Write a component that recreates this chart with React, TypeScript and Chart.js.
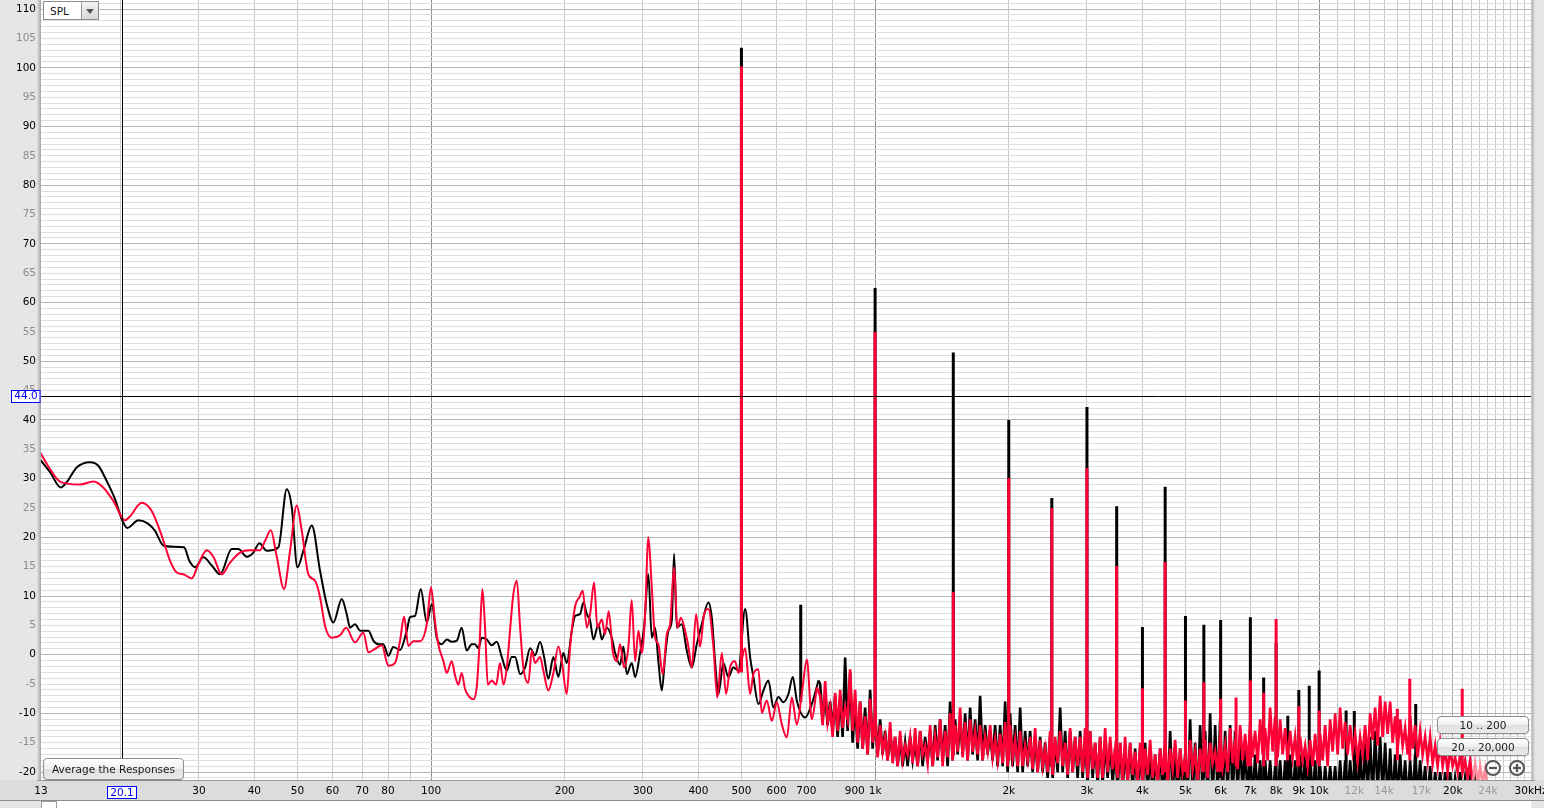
import React, { useEffect, useRef } from 'react';
import { Chart, registerables } from 'chart.js';

Chart.register(...registerables);

const FONT = '"DejaVu Sans", sans-serif';
const RED = '#ff0036';
const RED_LIGHT = '#ff8a9c';

// ---------- axis ranges ----------
const xMinHz = 13.23;
const xMaxHz = 30000;
const yMinDb = -21.35;
const yMaxDb = 111.55;
const cursorHz = 20.1;
const cursorDb = 44.0;

// ---------- x tick / grid positions and labels ----------
const xTickHz = [
  13.23, 20, 30, 40, 50, 60, 70, 80, 90,
  100, 200, 300, 400, 500, 600, 700, 800, 900,
  1000, 2000, 3000, 4000, 5000, 6000, 7000, 8000, 9000,
  10000, 11000, 12000, 13000, 14000, 15000, 16000, 17000, 18000, 19000, 20000,
  21000, 22000, 23000, 24000, 25000, 26000, 27000, 28000, 29000, 30000,
];
const xTickText = new Map<number, string>([
  [13.23, '13'], [30, '30'], [40, '40'], [50, '50'], [60, '60'], [70, '70'], [80, '80'],
  [100, '100'], [200, '200'], [300, '300'], [400, '400'], [500, '500'], [600, '600'], [700, '700'], [900, '900'],
  [1000, '1k'], [2000, '2k'], [3000, '3k'], [4000, '4k'], [5000, '5k'], [6000, '6k'], [7000, '7k'], [8000, '8k'], [9000, '9k'],
  [10000, '10k'], [12000, '12k'], [14000, '14k'], [17000, '17k'], [20000, '20k'], [24000, '24k'], [30000, '30kHz'],
]);
const xGreyLabels = [12000, 14000, 17000, 24000];

// ---------- low / mid frequency part: [Hz, dB] ----------
const blackLow: [number, number][] = [
  [13.16, 33.3], [13.87, 31.1], [14.66, 28.5], [15.12, 29.4], [15.92, 31.9], [17.06, 32.8], [17.81, 32.2],
  [18.6, 29.6], [19.42, 26.5], [20.11, 23.1], [20.7, 21.6], [21.92, 22.9], [23.08, 22.3], [23.9, 21.1],
  [24.95, 18.6], [26.28, 18.4], [27.78, 18.3], [28.55, 16.0], [29.41, 14.9], [30.71, 16.6], [32.07, 15.2],
  [33.48, 13.7], [35.57, 18.0], [36.81, 18.0], [38.45, 16.7], [39.8, 17.4], [41.06, 19.0], [42.66, 17.7],
  [45.3, 18.3], [47.32, 28.2], [48.57, 25.1], [50.0, 14.9], [51.58, 17.7], [53.87, 22.0], [56.23, 14.3],
  [58.22, 8.6], [60.26, 5.5], [62.94, 9.5], [64.58, 6.9], [65.71, 4.6], [67.43, 5.2], [69.21, 4.1],
  [72.25, 4.1], [74.13, 2.4], [76.09, 1.8], [78.09, 1.8], [80.13, -0.2], [82.24, 1.3], [85.15, 0.8],
  [88.17, 4.1], [89.68, 6.4], [92.04, 6.6], [94.8, 11.2], [97.8, 5.5], [100.4, 8.6], [103.0, 2.9],
  [105.7, 1.8], [108.5, 2.6], [111.3, 2.2], [114.3, 2.4], [117.2, 4.6], [120.3, 0.7], [123.5, 1.8],
  [125.6, 1.8], [127.8, 1.1], [130.1, 2.9], [133.5, 2.6], [137.0, 1.6], [140.6, 2.2], [144.3, -0.4],
  [148.1, -2.7], [151.9, -0.4], [154.6, -0.4], [158.7, -3.3], [162.8, -2.2], [167.1, 1.1], [171.5, -0.1],
  [176.0, 2.2], [179.7, -0.4], [183.7, -4.1], [188.6, -0.4], [193.5, -3.8], [198.6, 0.3], [202.1, -1.4],
  [207.5, 4.1], [211.1, 6.6], [216.6, 6.9], [220.3, 8.9], [224.3, 6.9], [228.1, 5.8], [232.1, 2.6],
  [238.2, 5.2], [242.4, 2.6], [248.7, 4.6], [255.3, 2.9], [259.7, 0.3], [266.5, -1.7], [271.1, 1.4],
  [276.0, -3.3], [283.1, -1.4], [288.1, -3.8], [295.6, 0.3], [301.8, 4.6], [308.6, 13.7], [314.1, 2.9],
  [319.5, 4.6], [325.0, -1.1], [330.8, -6.1], [336.5, -0.4], [342.3, 4.1], [348.4, 5.8], [352.6, 17.2],
  [357.6, 4.6], [366.9, 5.2], [376.6, 0.7], [386.5, -2.2], [396.7, 1.8], [407.1, 5.2], [421.3, 8.9],
  [428.8, 6.3], [436.1, -1.1], [443.7, -6.7], [455.3, -1.4], [467.3, -3.8], [479.6, -2.2], [492.2, -2.7],
  [509.6, 7.8], [523.0, -0.4], [532.0, -3.8], [546.0, -8.4], [560.4, -6.1], [575.1, -4.4], [590.2, -9.0],
  [605.7, -7.2], [621.6, -8.1], [637.9, -6.7], [652.6, -3.8], [666.3, -7.8], [695.7, -10.7], [720.3, -8.4],
  [745.4, -4.4],
];

const redLow: [number, number][] = [
  [13.16, 34.5], [13.87, 31.6], [14.66, 29.4], [16.2, 29.0], [17.36, 29.5], [18.27, 28.5], [19.25, 26.2],
  [20.46, 22.9], [21.0, 23.6], [22.3, 25.9], [23.49, 24.5], [24.74, 20.3], [25.84, 16.0], [26.75, 14.0],
  [27.68, 13.7], [28.91, 13.0], [29.92, 15.4], [31.25, 17.8], [32.34, 16.7], [33.78, 13.7], [35.26, 15.7],
  [37.14, 17.4], [39.11, 17.8], [41.21, 17.8], [42.28, 19.4], [43.55, 21.2], [44.93, 16.7], [46.65, 11.2],
  [48.13, 17.7], [49.84, 25.4], [51.15, 21.1], [52.92, 13.7], [54.8, 12.6], [56.23, 9.8], [57.71, 4.9],
  [59.75, 2.9], [62.37, 3.3], [64.36, 4.6], [67.43, 2.1], [70.4, 3.8], [72.25, 0.4], [74.8, 1.0],
  [77.45, 1.6], [80.13, -1.9], [82.96, -1.4], [85.15, 2.4], [86.94, 6.5], [88.9, 1.5], [91.23, 2.3],
  [94.45, 2.3], [97.8, 5.2], [100.0, 11.5], [102.1, 5.5], [103.8, 1.8], [106.6, -1.1], [108.5, -3.1],
  [111.3, -1.1], [113.3, -3.6], [115.2, -5.1], [117.2, -3.1], [119.3, -5.9], [122.4, -7.3], [124.5, -7.6],
  [126.7, -5.6], [128.5, 1.4], [130.5, 11.2], [132.3, 4.6], [134.2, -5.1], [137.0, -4.4], [140.1, -5.1],
  [143.0, -1.4], [145.5, -5.1], [148.1, -2.2], [150.6, 4.1], [153.2, 10.3], [156.0, 12.6], [158.7, 4.6],
  [161.4, -2.2], [165.6, -4.8], [168.6, 0.7], [171.5, -1.4], [176.0, -0.4], [179.0, -2.7], [183.7, -6.1],
  [188.6, -3.1], [193.5, 1.4], [197.0, -1.1], [202.1, -6.7], [205.7, 1.4], [211.1, 8.3], [215.8, 9.8],
  [219.6, 10.9], [224.3, 4.6], [228.1, 6.9], [232.9, 12.3], [236.9, 4.6], [242.4, 6.0], [246.5, 3.5],
  [251.2, 7.4], [256.6, 0.5], [262.0, -1.1], [266.5, 1.8], [272.1, -2.2], [278.3, 1.4], [283.1, 9.3],
  [288.1, -1.1], [293.1, 4.1], [298.3, 0.3], [303.4, 6.9], [308.6, 20.0], [314.1, 11.5], [319.5, 2.9],
  [325.0, 1.8], [332.5, -3.3], [339.6, 3.5], [345.4, 5.2], [352.6, 14.9], [358.7, 4.6], [365.1, 6.3],
  [373.3, 4.1], [379.7, 1.4], [386.5, -2.2], [395.2, 6.9], [403.5, 1.4], [412.0, 6.9], [421.3, 7.8],
  [432.3, 1.4], [441.3, -7.3], [451.6, 0.3], [461.8, -6.7], [471.4, -2.2], [483.8, -1.1], [492.2, -3.1],
  [509.6, 1.1], [523.0, -6.7], [532.0, -3.3], [546.0, -2.5], [555.7, -9.9], [570.3, -7.8], [585.3, -11.3],
  [600.7, -8.1], [616.6, -11.9], [632.7, -14.1], [649.3, -7.3], [666.3, -11.9], [683.8, -6.7], [702.0, -0.8],
  [720.3, -11.0], [739.2, -5.6],
];

// ---------- dense high-frequency part, read as alternating local max / min ----------
const hfStartHz = 752;
const hfEndHz = 23960;

const redHfDb = [
  -7, -12, -4.5, -11.5, -9, -14, -6.5, -13, -6, -12.5, -9, -11, -2.5, -13, -6, -15,
  -8, -16, -10.5, -17, -7.5, -15, -10, -17.5, -12, -16.5, -14, -18, -11.5, -18.5, -14, -19,
  -13, -18, -15.5, -17, -14, -18.5, -12.5, -19, -13, -17, -15.5, -18.5, -12, -19, -14, -17.5,
  -11, -19, -13, -17.5, -10, -18, -12, -16.5, -9, -17.5, -11.5, -18, -11, -16.5, -13, -17,
  -12, -18, -14, -16.5, -12, -17.5, -14.5, -18, -13.5, -18.5, -11.5, -19, -12, -17.5, -14.5, -19,
  -13, -19, -15.5, -18, -14, -19.5, -12.5, -20, -14.5, -19, -16, -20, -13, -20.5, -14, -18.5,
  -13, -19, -15, -20.5, -12.5, -20, -14, -19, -14, -20, -12.5, -21, -13, -19.5, -15, -21,
  -14, -21, -12.5, -20, -14, -19.5, -16, -21, -15, -21.5, -14, -22, -15, -20.5, -16.5, -22,
  -15, -22, -16, -20.5, -14.5, -21, -17, -22, -16, -20.5, -14.5, -22, -16, -19.5, -14.5, -21,
  -16, -20, -17.5, -21, -14.5, -19.5, -16.5, -21.5, -16, -20, -14.5, -21, -15, -18.5, -16.5, -20,
  -14, -19, -15.5, -20, -12.5, -18.5, -14.5, -19.5, -12, -18, -13.5, -19, -11.5, -17.5, -13, -18.5,
  -11, -17, -12.5, -18, -9, -16.5, -10.5, -17.5, -11, -17, -12.5, -18, -13, -17.5, -14, -19,
  -14, -18, -15.5, -19, -14.5, -19, -13.5, -18.5, -13.5, -18, -12, -19, -11, -16.5, -10, -17,
  -9, -16, -11.5, -17, -12, -16.5, -13.5, -18, -14, -17, -12, -18, -10, -14.5, -9, -15.5,
  -7, -14, -8, -13.5, -8, -15, -10.5, -16, -11, -15.5, -12.5, -17, -10.5, -16, -12, -17.5,
  -13, -17, -14, -18, -14, -18.5, -15.5, -19, -15, -19, -16, -20, -16, -19, -17.5, -20,
  -17, -20, -18, -21, -18, -22, -18.5, -22, -19, -22, -19.5, -23,
];

const blackHfDb = [
  -5, -11, -7, -12, -8, -13, -7, -14, -7, -14, -0.5, -13, -3, -15, -8, -16,
  -8, -16, -9, -17, -6, -16, -10, -17, -11, -17, -13, -18, -13, -18, -14, -19,
  -14, -19, -15, -19, -14, -18, -15, -19, -13, -19, -14, -18, -13, -19, -12, -18,
  -11, -18, -12, -19, -8, -18, -11, -17, -11, -17, -10, -18, -9, -17, -11, -18,
  -7, -18, -12, -17, -13, -18, -12, -19, -12, -19, -8, -20, -10, -19, -12, -20,
  -9, -20, -13, -19, -13, -20, -14, -20, -14, -20, -15, -21, -14, -21, -15, -20,
  -9, -20, -13, -21, -13, -20, -14, -21, -13, -21, -14, -22, -13, -21, -15, -22,
  -14, -22, -15, -21, -15, -22, -16, -23, -15, -23, -16, -22, -15, -23, -16, -24,
  -16, -23, -15, -24, -16, -24, -17, -23, -16, -24, -17, -25, -13, -24, -16, -25,
  -16, -24, -17, -25, -11, -24, -15, -25, -12, -24, -13, -25, -10, -25, -12, -24,
  -11, -25, -13, -24, -12, -25, -13, -24, -14, -24, -15, -25, -16, -25, -17, -24,
  -18, -25, -18, -24, -18, -25, -19, -24, -18, -25, -18, -24, -17, -25, -18, -24,
  -17, -24, -17, -25, -17, -25, -18, -24, -19, -25, -19, -24, -19, -24, -19, -25,
  -18, -25, -18, -24, -18, -24, -17, -25, -16, -25, -15, -24, -14, -25, -13, -24,
  -14, -24, -15, -25, -16, -25, -17, -24, -17, -24, -18, -25, -18, -25, -17, -24,
  -18, -24, -19, -25, -19, -25, -20, -24, -20, -25, -20, -24, -20, -25, -21, -24,
  -20, -25, -21, -24, -21, -25, -21, -25, -22, -30, -30, -30,
];

// ---------- harmonic / distortion spikes ----------
const blackSpikeHz = [500, 680, 1000, 1500, 2000, 2500, 3000, 3500, 4000, 4500, 5000, 5500, 6000, 7000, 7500, 8000, 8500, 9000, 9500, 10000, 11500, 12000, 16500];
const blackSpikePeakDb = [103.4, 8.5, 62.5, 51.5, 40.0, 26.7, 42.2, 25.3, 4.7, 28.6, 6.6, 5.1, 5.9, 6.4, -3.9, 2.0, -10.4, -6.0, -5.3, -2.7, -9.5, -9.6, -8.4];
const blackSpikeBaseDb = [-3, -8, -14, -17, -18, -19, -19, -20, -21, -21, -21, -21, -21, -21, -21, -21, -21, -21, -21, -21, -22, -22, -22];

const redSpikeHz = [500, 1000, 1500, 2000, 2500, 3000, 3500, 4000, 4500, 5000, 5500, 6000, 6500, 7000, 7500, 8000, 9000, 10000, 15000, 16000, 21000];
const redSpikePeakDb = [100.2, 55.0, 10.7, 30.1, 25.0, 31.8, 15.1, -5.7, 15.8, -7.8, -4.7, -7.5, -7.3, -4.4, -6.5, 6.1, -8.8, -9.5, -9.2, -4.1, -5.8];
const redSpikeBaseDb = [-3, -14, -17, -18, -19, -19, -20, -20, -20, -20, -20, -20, -19, -19, -19, -19, -19, -19, -18, -18, -20];

// ---------- helpers ----------
type Pt = { x: number; y: number | null };
const hfGrid = (n: number) =>
  Array.from({ length: n }, (_, i) => hfStartHz * Math.pow(hfEndHz / hfStartHz, i / (n - 1)));
const lowPts = (low: [number, number][]): Pt[] => low.map(([x, y]) => ({ x, y }));
const hfPts = (low: [number, number][], hf: number[]): Pt[] => {
  const g = hfGrid(hf.length);
  const last = low[low.length - 1];
  return [{ x: last[0], y: last[1] }, ...hf.map((y, i) => ({ x: g[i], y }))];
};
const spikePts = (hz: number[], base: number[], peak: number[]): Pt[] =>
  hz.flatMap((f, i) => [{ x: f, y: base[i] }, { x: f, y: peak[i] }, { x: f, y: null }]);

const decorPlugin = {
  id: 'decor',
  beforeDraw(chart: any) {
    const { ctx, chartArea: a, width, height } = chart;
    ctx.save();
    ctx.fillStyle = '#e6e6e6';
    ctx.fillRect(0, 0, width, height);
    ctx.fillStyle = '#dcdcdc';
    ctx.fillRect(0, a.bottom, width, 21);
    ctx.fillStyle = '#8c8c8c';
    ctx.fillRect(0, a.bottom + 20, width, 1);
    ctx.fillStyle = '#ffffff';
    ctx.fillRect(a.left, a.bottom + 21, a.right - a.left, height - a.bottom - 21);
    ctx.strokeStyle = '#9a9a9a';
    ctx.lineWidth = 1;
    ctx.strokeRect(a.left + 0.5, a.bottom + 21.5, 15, 10);
    ctx.fillStyle = '#ffffff';
    ctx.fillRect(a.left, a.top, a.right - a.left, a.bottom - a.top);
    const g = ctx.createLinearGradient(a.left - 4, 0, a.left, 0);
    g.addColorStop(0, '#e2e2e2');
    g.addColorStop(1, '#a4a4a4');
    ctx.fillStyle = g;
    ctx.fillRect(a.left - 4, a.top, 4, a.bottom - a.top + 1);
    const g2 = ctx.createLinearGradient(a.right, 0, a.right + 4, 0);
    g2.addColorStop(0, '#a4a4a4');
    g2.addColorStop(1, '#e2e2e2');
    ctx.fillStyle = g2;
    ctx.fillRect(a.right, a.top, 4, a.bottom - a.top + 1);
    ctx.fillStyle = '#9a9a9a';
    ctx.fillRect(a.left - 4, a.bottom, a.right - a.left + 8, 1);
    ctx.restore();
  },
  afterDatasetsDraw(chart: any) {
    const { ctx, chartArea: a, scales } = chart;
    const cx = Math.round(scales.x.getPixelForValue(cursorHz)) + 0.5;
    const cy = Math.round(scales.y.getPixelForValue(cursorDb)) + 0.5;
    ctx.save();
    ctx.strokeStyle = '#000';
    ctx.lineWidth = 1;
    ctx.beginPath();
    ctx.moveTo(cx, a.top);
    ctx.lineTo(cx, a.bottom);
    ctx.moveTo(a.left, cy);
    ctx.lineTo(a.right, cy);
    ctx.stroke();
    ctx.restore();
  },
  afterDraw(chart: any) {
    const { ctx, chartArea: a, scales } = chart;
    const cx = scales.x.getPixelForValue(cursorHz);
    const cy = scales.y.getPixelForValue(cursorDb);
    ctx.save();
    ctx.font = `10.5px ${FONT}`;
    ctx.textAlign = 'center';
    ctx.textBaseline = 'middle';
    ctx.fillStyle = '#fff';
    ctx.fillRect(11.5, Math.round(cy) - 5.5, 28.5, 12);
    ctx.strokeStyle = '#0000ff';
    ctx.lineWidth = 1;
    ctx.strokeRect(11.5, Math.round(cy) - 5.5, 28.5, 12);
    ctx.fillStyle = '#0000ff';
    ctx.fillText(cursorDb.toFixed(1), 26, Math.round(cy) + 0.5);
    const bx = Math.round(cx) - 14.5;
    const by = a.bottom + 6.5;
    ctx.fillStyle = '#fff';
    ctx.fillRect(bx, by, 29, 12);
    ctx.strokeRect(bx, by, 29, 12);
    ctx.fillStyle = '#0000ff';
    ctx.fillText(cursorHz.toFixed(1), Math.round(cx), by + 6.5);
    ctx.restore();
  },
};

const btnStyle: React.CSSProperties = {
  position: 'absolute',
  boxSizing: 'border-box',
  border: '1px solid #8d8d8d',
  borderRadius: 4,
  background: 'linear-gradient(#ffffff, #efefef 50%, #e0e0e0 51%, #e9e9e9)',
  font: `10.5px ${FONT}`,
  color: '#1a1a1a',
  display: 'flex',
  alignItems: 'center',
  justifyContent: 'center',
  boxShadow: '0 1px 1px rgba(0,0,0,0.12)',
  whiteSpace: 'nowrap',
};

export default function App() {
  const canvasRef = useRef<HTMLCanvasElement>(null);

  useEffect(() => {
    document.body.style.margin = '0';
    const canvas = canvasRef.current;
    if (!canvas) return;

    const lineBase = { pointRadius: 0, clip: 0, spanGaps: false };

    const chart = new Chart(canvas, {
      type: 'line',
      data: {
        datasets: [
          {
            ...lineBase,
            label: 'red spikes',
            data: spikePts(redSpikeHz, redSpikeBaseDb, redSpikePeakDb) as any,
            borderColor: RED,
            borderWidth: 3,
            order: 0,
          },
          {
            ...lineBase,
            label: 'red HF',
            data: hfPts(redLow, redHfDb) as any,
            borderColor: RED,
            borderWidth: 2.6,
            order: 1,
            segment: {
              borderColor: (c: any) => (c.p0.parsed.x >= 22000 ? RED_LIGHT : undefined),
            },
          },
          {
            ...lineBase,
            label: 'red',
            data: lowPts(redLow) as any,
            borderColor: RED,
            borderWidth: 2,
            cubicInterpolationMode: 'monotone',
            order: 2,
          },
          {
            ...lineBase,
            label: 'black spikes',
            data: spikePts(blackSpikeHz, blackSpikeBaseDb, blackSpikePeakDb) as any,
            borderColor: '#000',
            borderWidth: 3,
            order: 3,
          },
          {
            ...lineBase,
            label: 'black HF',
            data: hfPts(blackLow, blackHfDb) as any,
            borderColor: '#000',
            borderWidth: 2.6,
            order: 4,
          },
          {
            ...lineBase,
            label: 'black',
            data: lowPts(blackLow) as any,
            borderColor: '#000',
            borderWidth: 2,
            cubicInterpolationMode: 'monotone',
            order: 5,
          },
        ],
      },
      options: {
        animation: false,
        responsive: false,
        maintainAspectRatio: false,
        events: [],
        layout: { padding: { left: 0, right: 13, top: 0, bottom: 0 } },
        plugins: { legend: { display: false }, tooltip: { enabled: false } },
        scales: {
          x: {
            type: 'logarithmic',
            min: xMinHz,
            max: xMaxHz,
            afterBuildTicks: (axis: any) => {
              axis.ticks = xTickHz.map((v) => ({ value: v }));
            },
            afterFit: (s: any) => {
              s.height = 28;
              s.paddingLeft = 0;
              s.paddingRight = 0;
            },
            border: { display: false },
            grid: {
              drawTicks: false,
              lineWidth: 1,
              color: (c: any) => {
                const v = c.tick ? c.tick.value : 0;
                if (v === xMinHz) return 'rgba(0,0,0,0)';
                if (v === 100 || v === 1000 || v === 10000) return '#8e8e8e';
                if (v === 20000) return '#aaaaaa';
                return '#c9c9c9';
              },
            },
            ticks: {
              autoSkip: false,
              maxRotation: 0,
              minRotation: 0,
              padding: 5,
              font: { family: FONT, size: 10.5 },
              color: (c: any) => (xGreyLabels.includes(c.tick.value) ? '#9a9a9a' : '#000'),
              callback: (v: any) => xTickText.get(Number(v)) ?? '',
            },
          },
          y: {
            type: 'linear',
            min: yMinDb,
            max: yMaxDb,
            afterBuildTicks: (axis: any) => {
              const t: { value: number }[] = [];
              for (let v = -21; v <= 111; v++) t.push({ value: v });
              axis.ticks = t;
            },
            afterFit: (s: any) => {
              s.width = 41;
              s.paddingTop = 0;
              s.paddingBottom = 0;
            },
            border: { display: false },
            grid: {
              drawTicks: false,
              lineWidth: 1,
              color: (c: any) => (c.tick && c.tick.value % 10 === 0 ? '#b4b4b4' : '#dedede'),
            },
            ticks: {
              autoSkip: false,
              padding: 5,
              font: { family: FONT, size: 10.5 },
              color: (c: any) => (c.tick.value % 10 === 0 ? '#000' : '#8c8c8c'),
              callback: (v: any) => (Number(v) % 5 === 0 ? String(v) : ''),
            },
          },
        },
      },
      plugins: [decorPlugin],
    } as any);

    return () => chart.destroy();
  }, []);

  return (
    <div style={{ position: 'fixed', left: 0, top: 0, width: 1544, height: 808, overflow: 'hidden', background: '#e6e6e6' }}>
      <canvas ref={canvasRef} width={1544} height={808} style={{ position: 'absolute', left: 0, top: 0, width: 1544, height: 808 }} />

      <div
        style={{
          position: 'absolute', left: 43, top: 1, width: 56, height: 19, boxSizing: 'border-box',
          border: '1px solid #8c8c8c', background: '#fff', font: `10.5px ${FONT}`, color: '#111',
        }}
      >
        <span style={{ position: 'absolute', left: 6, top: 3 }}>SPL</span>
        <div
          style={{
            position: 'absolute', right: 0, top: 0, width: 16, height: 17, borderLeft: '1px solid #9a9a9a',
            background: 'linear-gradient(#f4f4f4, #d8d8d8)',
          }}
        >
          <div
            style={{
              position: 'absolute', left: 4, top: 7, width: 0, height: 0,
              borderLeft: '4px solid transparent', borderRight: '4px solid transparent', borderTop: '5px solid #555',
            }}
          />
        </div>
      </div>

      <div style={{ ...btnStyle, left: 43, top: 758, width: 141, height: 22 }}>Average the Responses</div>
      <div style={{ ...btnStyle, left: 1437, top: 716, width: 92, height: 18 }}>10 .. 200</div>
      <div style={{ ...btnStyle, left: 1437, top: 738, width: 92, height: 18 }}>20 .. 20,000</div>

      <svg style={{ position: 'absolute', left: 1484, top: 759 }} width={44} height={18}>
        <circle cx={9} cy={9} r={7} fill="rgba(255,255,255,0.6)" stroke="#555" strokeWidth={2} />
        <line x1={5} y1={9} x2={13} y2={9} stroke="#555" strokeWidth={2.2} />
        <circle cx={33} cy={9} r={7} fill="rgba(255,255,255,0.6)" stroke="#555" strokeWidth={2} />
        <line x1={29} y1={9} x2={37} y2={9} stroke="#555" strokeWidth={2.2} />
        <line x1={33} y1={5} x2={33} y2={13} stroke="#555" strokeWidth={2.2} />
      </svg>
    </div>
  );
}
